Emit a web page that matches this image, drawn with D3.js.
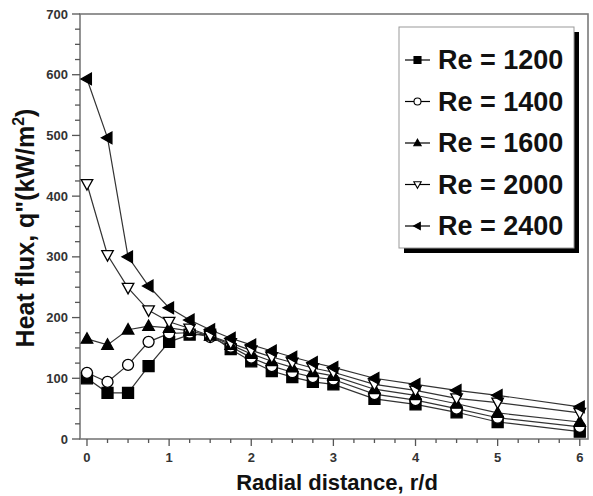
<!DOCTYPE html>
<html><head><meta charset="utf-8">
<script src="https://cdn.jsdelivr.net/npm/d3@7"></script>
<style>body{margin:0;background:#fff}svg{display:block}</style>
</head><body>
<svg id="c" width="593" height="496"></svg>
<script>
const xVals = [0,0.25,0.5,0.75,1,1.25,1.5,1.75,2,2.25,2.5,2.75,3,3.5,4,4.5,5,6];
const re1200 = [100,76,76,120,160,172,172,148,128,112,102,94,90,66,57,44,28,12];
const re1400 = [109,94,122,160,174,175,168,152,134,120,110,102,98,74,64,50,35,20];
const re1600 = [165,155,180,186,183,178,170,155,140,128,118,110,104,82,72,58,43,28];
const re2000 = [420,303,249,212,193,182,170,158,146,135,126,117,110,90,80,67,60,43];
const re2400 = [593,496,300,252,216,196,180,166,155,145,135,126,118,100,90,80,72,53];
const seriesNames = ["Re = 1200","Re = 1400","Re = 1600","Re = 2000","Re = 2400"];
const xTickLabels = ["0","1","2","3","4","5","6"];
const yTickLabels = ["0","100","200","300","400","500","600","700"];

const series = [
  {name: seriesNames[0], vals: re1200, sym: "square", fill: "#000"},
  {name: seriesNames[1], vals: re1400, sym: "circle", fill: "#fff"},
  {name: seriesNames[2], vals: re1600, sym: "up", fill: "#000"},
  {name: seriesNames[3], vals: re2000, sym: "down", fill: "#fff"},
  {name: seriesNames[4], vals: re2400, sym: "left", fill: "#000"}
];

const svg = d3.select("#c");
const L = 80, R = 588, T = 14, B = 439;
const x = d3.scaleLinear().domain([-0.085, 6.1]).range([L, R]);
const y = d3.scaleLinear().domain([0, 700]).range([B, T]);
const font = "'Liberation Sans', Arial, sans-serif";

function symPath(type, s) {
  const h = s / 2;
  if (type === "square") return `M${-h},${-h}H${h}V${h}H${-h}Z`;
  if (type === "circle") return d3.symbol(d3.symbolCircle, Math.PI * h * h)();
  if (type === "up") return `M0,${-h*1.1}L${h*1.05},${h*0.8}L${-h*1.05},${h*0.8}Z`;
  if (type === "down") return `M0,${h*1.1}L${h*1.05},${-h*0.8}L${-h*1.05},${-h*0.8}Z`;
  if (type === "left") return `M${-h*1.1},0L${h*0.8},${-h*1.05}L${h*0.8},${h*1.05}Z`;
}

// frame
svg.append("rect").attr("x", L).attr("y", T).attr("width", R - L).attr("height", B - T)
  .attr("fill", "none").attr("stroke", "#7a7a7a").attr("stroke-width", 1.6);

// x axis ticks
const xMinor = d3.range(0, 6.001, 0.25);
const xAxis = svg.append("g").attr("transform", `translate(0,${B})`);
xAxis.selectAll("line.mi").data(xMinor).join("line")
  .attr("x1", d => x(d)).attr("x2", d => x(d)).attr("y1", 0)
  .attr("y2", d => Number.isInteger(d) ? 7 : 4)
  .attr("stroke", "#555").attr("stroke-width", 1.3);
xAxis.selectAll("text").data(xTickLabels).join("text")
  .attr("x", d => x(+d)).attr("y", 23).attr("text-anchor", "middle")
  .attr("font-family", font).attr("font-weight", "bold").attr("font-size", 13)
  .attr("fill", "#333").text(d => d);

// y axis ticks
const yMinor = d3.range(0, 700.001, 25);
const yAxis = svg.append("g").attr("transform", `translate(${L},0)`);
yAxis.selectAll("line").data(yMinor).join("line")
  .attr("y1", d => y(d)).attr("y2", d => y(d)).attr("x1", 0)
  .attr("x2", d => d % 100 === 0 ? -8 : -5)
  .attr("stroke", "#555").attr("stroke-width", 1.3);
yAxis.selectAll("text").data(yTickLabels).join("text")
  .attr("x", -12).attr("y", d => y(+d) + 4.5).attr("text-anchor", "end")
  .attr("font-family", font).attr("font-weight", "bold").attr("font-size", 13)
  .attr("fill", "#333").text(d => d);

// axis titles
svg.append("text").attr("x", 337).attr("y", 490).attr("text-anchor", "middle")
  .attr("font-family", font).attr("font-size", 22).attr("fill", "#111")
  .attr("font-weight", "bold").text("Radial distance, r/d");
const yt = svg.append("text").attr("transform", "translate(34,228) rotate(-90)")
  .attr("text-anchor", "middle").attr("font-family", font).attr("font-size", 25)
  .attr("font-weight", "bold").attr("fill", "#111");
yt.append("tspan").text("Heat flux, q\"(kW/m");
yt.append("tspan").attr("dy", -10).attr("font-size", 16).text("2");
yt.append("tspan").attr("dy", 10).text(")");

// lines and markers
const line = d3.line().x((d, i) => x(xVals[i])).y(d => y(d));
const g = svg.append("g");
series.forEach(s => {
  g.append("path").datum(s.vals).attr("d", line).attr("fill", "none")
    .attr("stroke", "#333").attr("stroke-width", 1.2);
});
series.forEach(s => {
  g.selectAll(null).data(s.vals).join("path")
    .attr("transform", (d, i) => `translate(${x(xVals[i])},${y(d)})`)
    .attr("d", symPath(s.sym, 11)).attr("fill", s.fill)
    .attr("stroke", "#000").attr("stroke-width", 1.3);
});

// legend
const lx = 399, ly = 27, lw = 175, lh = 221;
svg.append("rect").attr("x", lx + 5).attr("y", ly + 5).attr("width", lw).attr("height", lh).attr("fill", "#000");
svg.append("rect").attr("x", lx).attr("y", ly).attr("width", lw).attr("height", lh)
  .attr("fill", "#fff").attr("stroke", "#999").attr("stroke-width", 1);
const lg = svg.append("g").selectAll("g").data(series).join("g")
  .attr("transform", (d, i) => `translate(${lx},${ly + 29 + i * 41.5})`);
lg.append("line").attr("x1", 6).attr("x2", 31).attr("y1", 4).attr("y2", 4)
  .attr("stroke", "#000").attr("stroke-width", 1.2);
lg.append("path").attr("transform", "translate(18.5,4)")
  .attr("d", d => symPath(d.sym, 7)).attr("fill", d => d.fill)
  .attr("stroke", "#000").attr("stroke-width", 1.1);
lg.append("text").attr("x", 39).attr("y", 13).attr("font-family", font)
  .attr("font-weight", "bold").attr("font-size", 27).attr("fill", "#111")
  .text(d => d.name);
</script>
</body></html>
